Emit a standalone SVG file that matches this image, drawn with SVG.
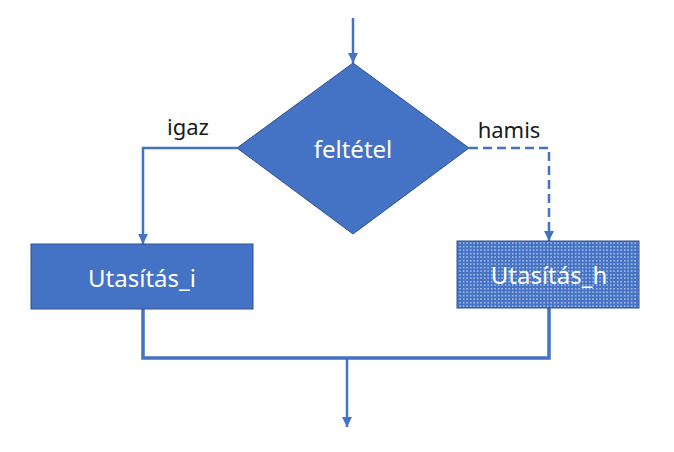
<svg xmlns="http://www.w3.org/2000/svg" width="674" height="452" viewBox="0 0 674 452">
<style>
.conn{fill:none;stroke:#4472C4;stroke-width:2.5}
.thick{stroke-width:3.5}
.dash{stroke-dasharray:9 5}
.shape{fill:#4472C4;stroke:#2F528F;stroke-width:1}
.lbl{font-family:"Noto Sans","Liberation Sans",sans-serif;font-size:24px;fill:#FFFFFF;text-anchor:middle}
.edge{font-family:"Noto Sans","Liberation Sans",sans-serif;font-size:22px;fill:#1a1a1a;text-anchor:middle}
</style>
<defs>
<marker id="arr" viewBox="0 0 10 10" refX="10" refY="5" markerWidth="10" markerHeight="10" markerUnits="userSpaceOnUse" orient="auto">
<path d="M0,0 L10,5 L0,10 Z" fill="#4472C4"/>
</marker>
<pattern id="dots" width="3.5" height="3.5" patternUnits="userSpaceOnUse">
<rect width="3.5" height="3.5" fill="#4472C4"/>
<rect x="1" y="1" width="1.3" height="1.3" fill="#FFFFFF" opacity="0.85"/>
</pattern>
</defs>
<rect width="674" height="452" fill="#FFFFFF"/>
<g id="connectors">
<line class="conn" x1="353" y1="18" x2="353" y2="63" marker-end="url(#arr)"/>
<polyline class="conn" points="237,148 143,148 143,244" marker-end="url(#arr)"/>
<polyline class="conn dash" points="469,148 549,148 549,241" marker-end="url(#arr)"/>
<polyline class="conn thick" points="143,309 143,358 549,358 549,308"/>
<line class="conn" x1="347" y1="358" x2="347" y2="427" marker-end="url(#arr)"/>
<text class="edge" x="188" y="135">igaz</text>
<text class="edge" x="509" y="138">hamis</text>
</g>
<g id="decision">
<polygon class="shape" points="353,63 469,148 353,234 237,148"/>
<text class="lbl" x="353" y="158">feltétel</text>
</g>
<g id="utasitas_i">
<rect class="shape" x="31" y="244" width="222" height="65"/>
<text class="lbl" x="142" y="287">Utasítás_i</text>
</g>
<g id="utasitas_h">
<rect x="457" y="241" width="182" height="67" fill="url(#dots)" stroke="#2F528F" stroke-width="1"/>
<text class="lbl" x="549" y="284">Utasítás_h</text>
</g>
</svg>
